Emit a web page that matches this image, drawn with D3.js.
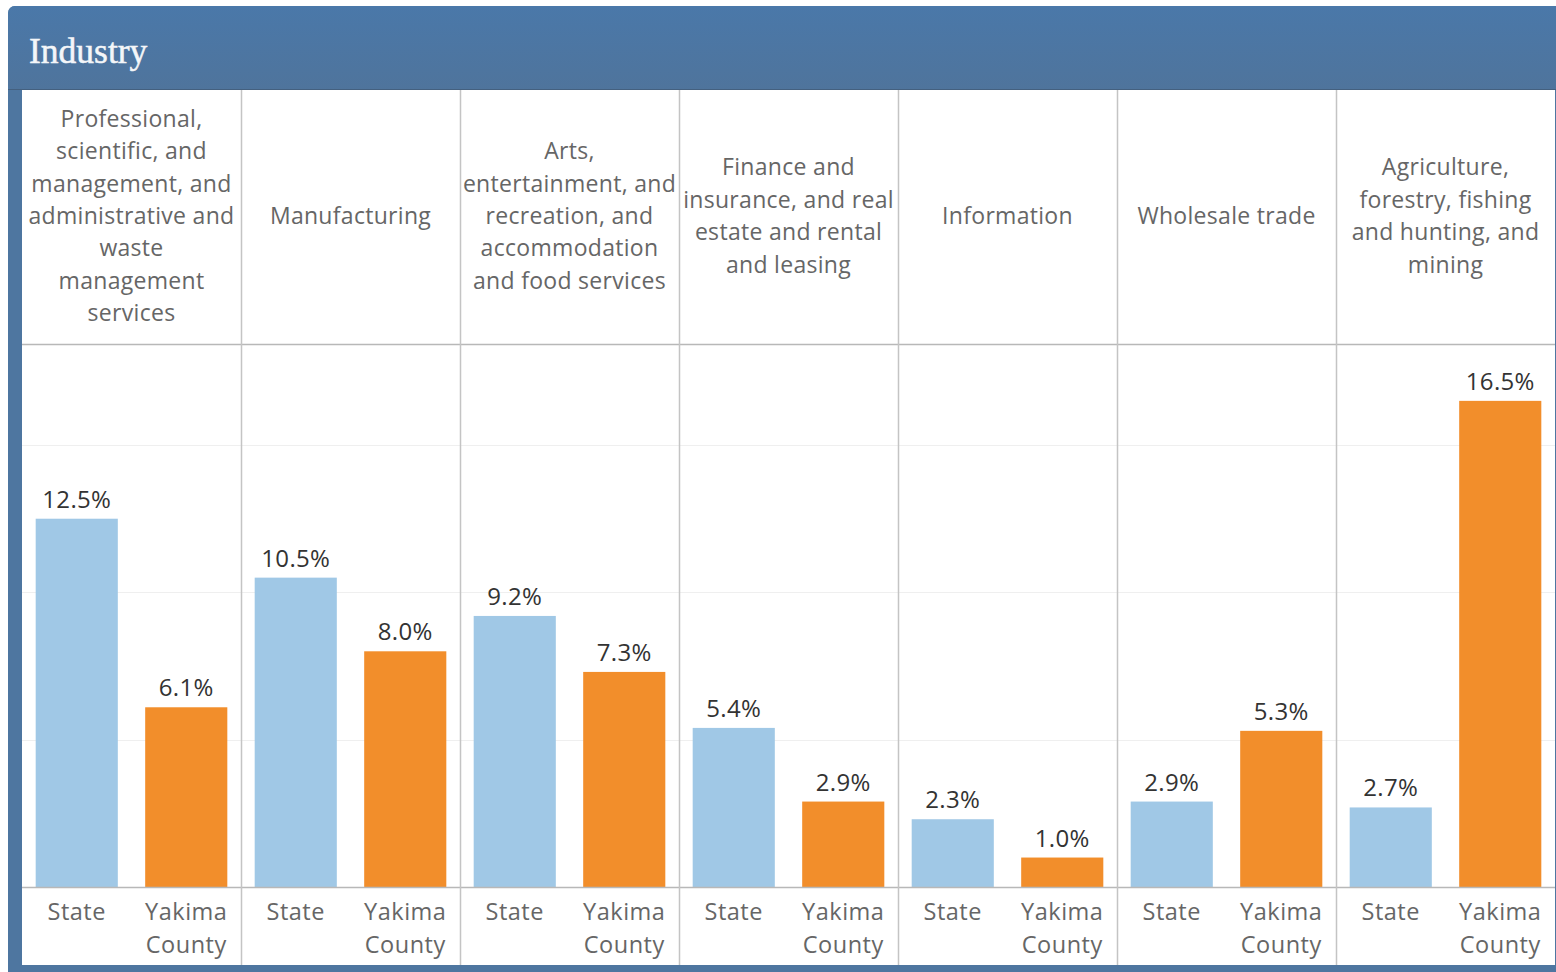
<!DOCTYPE html>
<html>
<head>
<meta charset="utf-8">
<script src="https://cdn.jsdelivr.net/npm/d3@7"></script>
<style>
  html, body { margin: 0; padding: 0; background: #ffffff; }
  svg { display: block; }
</style>
</head>
<body>
<svg id="chart" width="1556" height="972"></svg>
<script>
// Industry share of employment: Washington State vs. Yakima County
const industries = [
  "Professional, scientific, and management, and administrative and waste management services",
  "Manufacturing",
  "Arts, entertainment, and recreation, and accommodation and food services",
  "Finance and insurance, and real estate and rental and leasing",
  "Information",
  "Wholesale trade",
  "Agriculture, forestry, fishing and hunting, and mining"
];
// wrapped header lines, one entry per industry
const industryLines = [
  ["Professional,", "scientific, and", "management, and", "administrative and", "waste", "management", "services"],
  ["Manufacturing"],
  ["Arts,", "entertainment, and", "recreation, and", "accommodation", "and food services"],
  ["Finance and", "insurance, and real", "estate and rental", "and leasing"],
  ["Information"],
  ["Wholesale trade"],
  ["Agriculture,", "forestry, fishing", "and hunting, and", "mining"]
];
const areas = ["State", "Yakima County"];
const areaLines = [["State"], ["Yakima", "County"]];
const stateValues = [12.5, 10.5, 9.2, 5.4, 2.3, 2.9, 2.7];
const yakimaValues = [6.1, 8.0, 7.3, 2.9, 1.0, 5.3, 16.5];
const gridTicks = [5, 10, 15];

const rows = industries.map((name, i) => ({
  name, lines: industryLines[i],
  values: [
    { area: areas[0], value: stateValues[i] },
    { area: areas[1], value: yakimaValues[i] }
  ]
}));

const svg = d3.select("#chart");
const W = 1556, H = 972;

// frame geometry
const frame = { x: 8, y: 6, r: 7 };
const panel = { left: 22, right: 1555, top: 90, bottom: 965 };
const headerBottom = 344;
const axisY = 887;

const textFont = "'Open Sans', 'DejaVu Sans', sans-serif";
const blue = "#4e76a0";

// gradient for the title band
const defs = svg.append("defs");
const grad = defs.append("linearGradient").attr("id", "bandGrad")
  .attr("x1", 0).attr("y1", 0).attr("x2", 0).attr("y2", 1);
grad.append("stop").attr("offset", "0%").attr("stop-color", "#4a78a9");
grad.append("stop").attr("offset", "100%").attr("stop-color", "#4f749c");

svg.append("rect")
  .attr("x", frame.x).attr("y", frame.y)
  .attr("width", W - frame.x + 10).attr("height", H - frame.y + 10)
  .attr("rx", frame.r)
  .attr("fill", blue);
svg.append("rect")
  .attr("x", frame.x).attr("y", frame.y)
  .attr("width", W - frame.x + 10).attr("height", panel.top - frame.y)
  .attr("rx", frame.r)
  .attr("fill", "url(#bandGrad)");
svg.append("line")
  .attr("x1", frame.x).attr("x2", W)
  .attr("y1", panel.top - 0.5).attr("y2", panel.top - 0.5)
  .attr("stroke", "#44607f").attr("stroke-width", 1);

svg.append("text")
  .attr("x", 29).attr("y", 63)
  .attr("fill", "#f4f6f9")
  .attr("stroke", "#f4f6f9").attr("stroke-width", 0.5)
  .attr("font-family", "'Liberation Serif', 'DejaVu Serif', serif")
  .attr("font-size", 35.5)
  .text("Industry");

// white panel
svg.append("rect")
  .attr("x", panel.left).attr("y", panel.top)
  .attr("width", panel.right - panel.left).attr("height", panel.bottom - panel.top)
  .attr("fill", "#ffffff");

// scales
const x0 = d3.scaleBand()
  .domain(industries)
  .range([panel.left, panel.right])
  .paddingInner(0).paddingOuter(0);
const x1 = d3.scaleBand()
  .domain(areas)
  .range([0, x0.bandwidth()])
  .paddingInner(0.25).paddingOuter(0.125);
const y = d3.scaleLinear()
  .domain([0, 18.43])
  .range([axisY, headerBottom]);

const color = d3.scaleOrdinal().domain(areas).range(["#a0c8e6", "#f28e2b"]);

// horizontal gridlines
svg.append("g")
  .selectAll("line")
  .data(gridTicks)
  .join("line")
  .attr("x1", panel.left).attr("x2", panel.right)
  .attr("y1", d => Math.round(y(d)) + 0.5).attr("y2", d => Math.round(y(d)) + 0.5)
  .attr("stroke", "#efefef").attr("stroke-width", 1);

// column groups
const col = svg.append("g").selectAll("g")
  .data(rows)
  .join("g")
  .attr("transform", d => `translate(${x0(d.name)},0)`);

// header labels
col.each(function(d) {
  const g = d3.select(this);
  const lh = 32.4;
  const cy = 216;
  const start = cy - (d.lines.length - 1) * lh / 2;
  g.append("text")
    .attr("text-anchor", "middle")
    .attr("font-family", textFont)
    .attr("font-size", 23)
    .attr("letter-spacing", 0.3)
    .attr("fill", "#666666")
    .selectAll("tspan")
    .data(d.lines)
    .join("tspan")
    .attr("x", x0.bandwidth() / 2)
    .attr("y", (t, i) => start + i * lh)
    .attr("dy", "0.35em")
    .text(t => t);
});

// bars
col.selectAll("rect.bar")
  .data(d => d.values)
  .join("rect")
  .attr("class", "bar")
  .attr("x", d => x1(d.area))
  .attr("width", x1.bandwidth())
  .attr("y", d => y(d.value))
  .attr("height", d => y(0) - y(d.value))
  .attr("fill", d => color(d.area));

// value labels
col.selectAll("text.val")
  .data(d => d.values)
  .join("text")
  .attr("class", "val")
  .attr("x", d => x1(d.area) + x1.bandwidth() / 2)
  .attr("y", d => y(d.value) - 11)
  .attr("text-anchor", "middle")
  .attr("font-family", textFont)
  .attr("font-size", 24)
  .attr("letter-spacing", 0.3)
  .attr("fill", "#333333")
  .text(d => d.value.toFixed(1) + "%");

// area labels below the axis
col.selectAll("text.area")
  .data(areas.map((a, i) => ({ area: a, lines: areaLines[i] })))
  .join("text")
  .attr("class", "area")
  .attr("text-anchor", "middle")
  .attr("font-family", textFont)
  .attr("font-size", 23.5)
  .attr("letter-spacing", 0.5)
  .attr("fill", "#666666")
  .each(function(d) {
    d3.select(this).selectAll("tspan")
      .data(d.lines)
      .join("tspan")
      .attr("x", x1(d.area) + x1.bandwidth() / 2)
      .attr("y", (t, i) => 912 + i * 33)
      .attr("dy", "0.35em")
      .text(t => t);
  });

// header separator and axis line
svg.append("line")
  .attr("x1", panel.left).attr("x2", panel.right)
  .attr("y1", headerBottom + 0.5).attr("y2", headerBottom + 0.5)
  .attr("stroke", "#b8b8b8").attr("stroke-width", 1.5);
svg.append("line")
  .attr("x1", panel.left).attr("x2", panel.right)
  .attr("y1", axisY + 0.5).attr("y2", axisY + 0.5)
  .attr("stroke", "#b8b8b8").attr("stroke-width", 1.5);

// column dividers
svg.append("g")
  .selectAll("line")
  .data(industries.slice(1))
  .join("line")
  .attr("x1", d => Math.round(x0(d)) + 0.5).attr("x2", d => Math.round(x0(d)) + 0.5)
  .attr("y1", panel.top).attr("y2", panel.bottom)
  .attr("stroke", "#c4c4c4").attr("stroke-width", 1.5);
</script>
</body>
</html>
